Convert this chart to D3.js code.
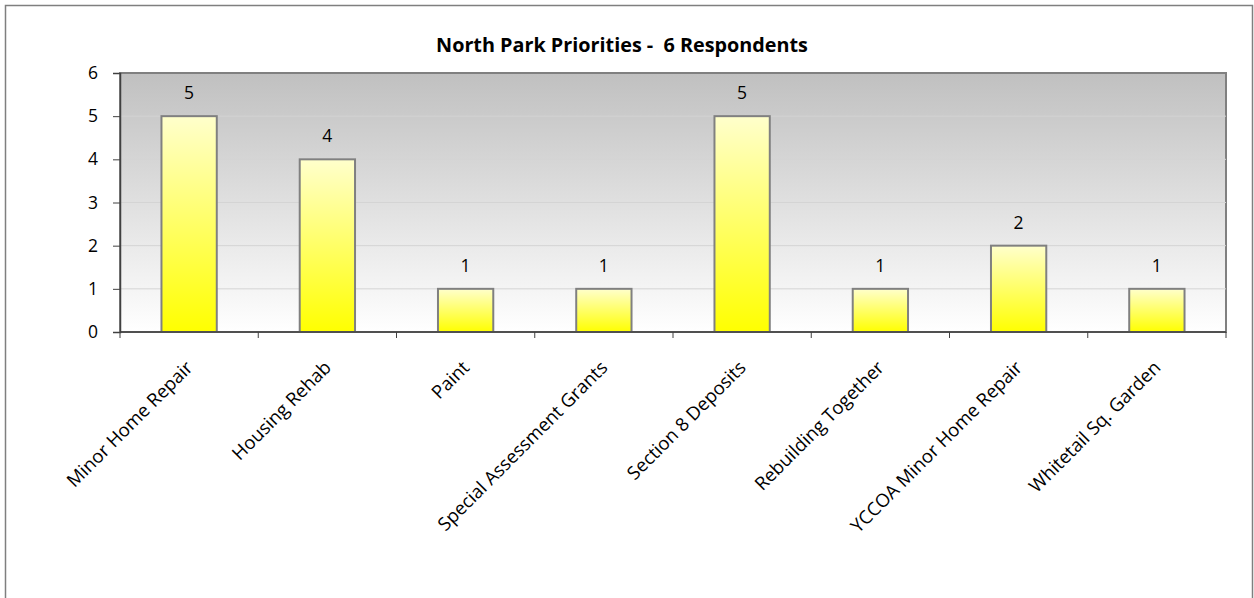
<!DOCTYPE html>
<html>
<head>
<meta charset="utf-8">
<script src="https://cdn.jsdelivr.net/npm/d3@7"></script>
<style>
body{margin:0;background:#fff;}
svg{display:block;font-family:"Open Sans",Lato,sans-serif;}
</style>
</head>
<body>
<div id="chart"></div>
<script>
const categories=["Minor Home Repair","Housing Rehab","Paint","Special Assessment Grants","Section 8 Deposits","Rebuilding Together","YCCOA Minor Home Repair","Whitetail Sq. Garden"];
const values=[5,4,1,1,5,1,2,1];
const yTicks=[0,1,2,3,4,5,6];
const title="North Park Priorities -  6 Respondents";

const width=1254, height=598;
const margin={top:73,left:120,right:28,bottom:266};

const svg=d3.select("#chart").append("svg")
    .attr("width",width)
    .attr("height",height);

const defs=svg.append("defs");
const bg=defs.append("linearGradient").attr("id","bg").attr("x1",0).attr("y1",0).attr("x2",0).attr("y2",1);
bg.append("stop").attr("offset","0%").attr("stop-color","#c0c0c0");
bg.append("stop").attr("offset","100%").attr("stop-color","#ffffff");
const barGrad=defs.append("linearGradient").attr("id","bar").attr("x1",0).attr("y1",0).attr("x2",0).attr("y2",1);
barGrad.append("stop").attr("offset","0%").attr("stop-color","#ffffcc");
barGrad.append("stop").attr("offset","100%").attr("stop-color","#ffff00");

// outer chart border
svg.append("rect")
    .attr("x",5.5).attr("y",5.5)
    .attr("width",1247).attr("height",600)
    .attr("fill","#fff")
    .attr("stroke","#7f7f7f")
    .attr("stroke-width",1.5);

const x=d3.scaleBand()
    .domain(categories)
    .range([margin.left,width-margin.right])
    .paddingInner(0.6)
    .paddingOuter(0.3);

const y=d3.scaleLinear()
    .domain([0,6])
    .range([height-margin.bottom,margin.top]);

const x0=margin.left, x1=width-margin.right;
const step=x.step();

// plot area
svg.append("rect")
    .attr("x",x0).attr("y",y(6))
    .attr("width",x1-x0).attr("height",y(0)-y(6))
    .attr("fill","url(#bg)")
    .attr("stroke","#808080")
    .attr("stroke-width",2);

// gridlines
svg.append("g")
    .selectAll("line")
    .data(yTicks.filter(d=>d>0&&d<6))
    .join("line")
    .attr("x1",x0).attr("x2",x1)
    .attr("y1",d=>y(d)).attr("y2",d=>y(d))
    .attr("stroke","#d4d4d4")
    .attr("stroke-width",1);

// bars
svg.append("g")
    .selectAll("rect")
    .data(values)
    .join("rect")
    .attr("x",(d,i)=>x(categories[i]))
    .attr("y",d=>y(d))
    .attr("width",x.bandwidth())
    .attr("height",d=>y(0)-y(d))
    .attr("fill","url(#bar)")
    .attr("stroke","#808080")
    .attr("stroke-width",2);

// value labels
svg.append("g")
    .selectAll("text")
    .data(values)
    .join("text")
    .attr("x",(d,i)=>x(categories[i])+x.bandwidth()/2)
    .attr("y",d=>y(d)-17)
    .attr("text-anchor","middle")
    .attr("font-size",17.5)
    .attr("fill","#000")
    .text(d=>d);

// y axis
const yAxis=svg.append("g")
    .attr("transform",`translate(${x0},0)`)
    .call(d3.axisLeft(y).tickValues(yTicks).tickFormat(d3.format("d")).tickSize(7).tickPadding(15));
yAxis.select(".domain").attr("stroke","#404040").attr("stroke-width",1.5);
yAxis.selectAll(".tick line").attr("stroke","#404040");
yAxis.selectAll(".tick text").attr("font-size",17.5).attr("fill","#000").attr("font-family","'Open Sans',Lato,sans-serif");

// x axis line + ticks at band boundaries
const xAxis=svg.append("g");
xAxis.append("line")
    .attr("x1",x0).attr("x2",x1)
    .attr("y1",y(0)).attr("y2",y(0))
    .attr("stroke","#404040").attr("stroke-width",1.5);
xAxis.selectAll(".xt")
    .data(d3.range(categories.length+1))
    .join("line")
    .attr("class","xt")
    .attr("x1",i=>x0+i*step).attr("x2",i=>x0+i*step)
    .attr("y1",y(0)).attr("y2",y(0)+6)
    .attr("stroke","#404040");

// category labels rotated
xAxis.selectAll(".xl")
    .data(categories)
    .join("text")
    .attr("class","xl")
    .attr("transform",d=>`translate(${x(d)+x.bandwidth()/2-5},${y(0)+27}) rotate(-45)`)
    .attr("text-anchor","end")
    .attr("dy","0.75em")
    .attr("font-size",18.5)
    .attr("fill","#000")
    .text(d=>d);

// title
svg.append("text")
    .attr("x",622)
    .attr("y",52)
    .attr("text-anchor","middle")
    .attr("font-size",19.8)
    .attr("font-weight","bold")
    .attr("fill","#000")
    .style("white-space","pre")
    .text(title);
</script>
</body>
</html>
